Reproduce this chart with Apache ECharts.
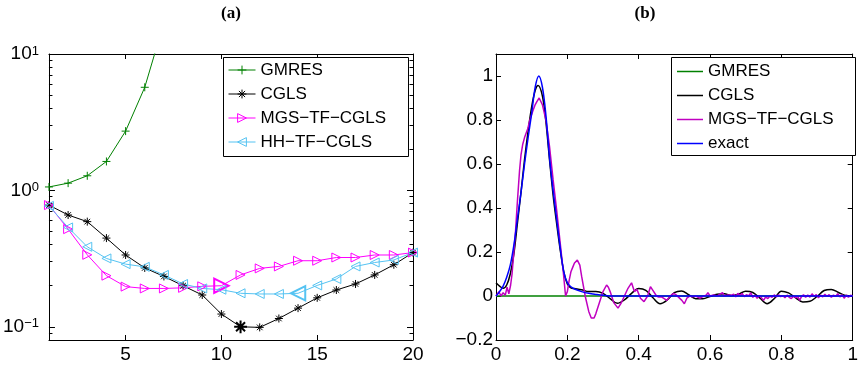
<!DOCTYPE html>
<html><head><meta charset="utf-8">
<script src="https://cdn.jsdelivr.net/npm/echarts@6/dist/echarts.min.js"></script>
<style>html,body{margin:0;padding:0;background:#fff}#c{width:861px;height:371px}</style>
</head><body><div id="c"></div>
<script>
// ---------- panel (a): error history ----------
const iterations = [1,2,3,4,5,6,7,8,9,10,11,12,13,14,15,16,17,18,19,20];
const gmresErr = [1.06,1.13,1.28,1.63,2.72,5.7,17,50];
const cglsErr  = [0.78,0.66,0.59,0.447,0.336,0.27,0.234,0.2,0.171,0.124,0.1,0.099,0.115,0.137,0.163,0.186,0.206,0.24,0.285,0.35];
const mgsErr   = [0.78,0.52,0.337,0.237,0.197,0.191,0.191,0.193,0.198,0.2,0.24,0.268,0.277,0.305,0.305,0.322,0.322,0.336,0.336,0.35];
const hhErr    = [0.77,0.535,0.386,0.317,0.288,0.275,0.24,0.206,0.191,0.187,0.176,0.174,0.174,0.176,0.201,0.224,0.277,0.296,0.309,0.35];
const cglsBest = 11, mgsBest = 10, hhBest = 14;
const leftXTicks = [5,10,15,20];
const leftYTicks = [0.1,1,10];
const leftYMinorTicks = [0.09,0.2,0.3,0.4,0.5,0.6,0.7,0.8,0.9,2,3,4,5,6,7,8,9];

// ---------- panel (b): solutions ----------
const gmresSol = [[0,0],[1,0]];
const exactSol = [[0,0],[0.01,0.02],[0.02,0.045],[0.03,0.085],[0.04,0.14],[0.05,0.23],[0.06,0.35],[0.07,0.47],[0.08,0.6],[0.09,0.72],[0.1,0.83],[0.11,0.95],[0.12,1.0],[0.13,0.95],[0.14,0.82],[0.15,0.63],[0.16,0.48],[0.17,0.35],[0.18,0.22],[0.19,0.11],[0.2,0.06],[0.21,0.042],[0.22,0.032],[0.24,0.02],[0.26,0.012],[0.28,0.007],[0.3,0.003],[0.33,0],[0.4,0],[0.6,0],[0.8,0],[1,0]];
const cglsSol = [[0,0.06],[0.01,0.045],[0.02,0.035],[0.03,0.05],[0.04,0.1],[0.05,0.19],[0.06,0.33],[0.07,0.47],[0.08,0.62],[0.09,0.75],[0.1,0.86],[0.11,0.935],[0.118,0.957],[0.13,0.91],[0.14,0.79],[0.15,0.62],[0.16,0.46],[0.17,0.33],[0.18,0.21],[0.19,0.11],[0.2,0.055],[0.21,0.037],[0.22,0.034],[0.24,0.028],[0.26,0.02],[0.28,0.02],[0.3,0.012],[0.32,-0.012],[0.34,-0.033],[0.36,-0.018],[0.38,0.012],[0.4,0.034],[0.42,0.026],[0.44,-0.008],[0.46,-0.035],[0.48,-0.018],[0.5,0.015],[0.52,0.023],[0.54,0.006],[0.56,-0.012],[0.58,-0.012],[0.6,-0.002],[0.62,0.008],[0.64,0.01],[0.66,0.002],[0.68,0.008],[0.7,0.022],[0.72,0.016],[0.74,-0.01],[0.76,-0.035],[0.78,-0.012],[0.8,0.022],[0.82,0.014],[0.84,-0.008],[0.86,-0.027],[0.88,-0.024],[0.9,-0.002],[0.92,0.025],[0.94,0.03],[0.96,0.016],[0.98,0.002],[1,0]];
const mgsSol = [[0,0],[0.008,0.02],[0.014,0],[0.02,0.015],[0.026,0.003],[0.031,0.04],[0.036,0.01],[0.041,0.05],[0.045,0.1],[0.05,0.2],[0.055,0.3],[0.06,0.43],[0.066,0.57],[0.07,0.64],[0.075,0.69],[0.08,0.72],[0.089,0.76],[0.095,0.8],[0.103,0.84],[0.11,0.87],[0.115,0.885],[0.121,0.9],[0.126,0.895],[0.13,0.87],[0.14,0.8],[0.15,0.68],[0.16,0.53],[0.17,0.39],[0.18,0.24],[0.188,0.12],[0.195,0],[0.2,0.02],[0.205,0.07],[0.21,0.11],[0.215,0.13],[0.22,0.15],[0.228,0.163],[0.235,0.14],[0.24,0.09],[0.25,0],[0.26,-0.07],[0.267,-0.1],[0.275,-0.1],[0.28,-0.08],[0.29,-0.03],[0.3,0.02],[0.31,0.05],[0.315,0.04],[0.32,0.02],[0.33,-0.03],[0.342,-0.055],[0.35,-0.035],[0.36,0],[0.37,0.035],[0.38,0.06],[0.383,0.065],[0.388,0.02],[0.395,0.03],[0.405,-0.01],[0.415,-0.026],[0.425,0],[0.433,0.042],[0.438,0.03],[0.442,0.035],[0.45,0],[0.456,-0.005],[0.465,-0.005],[0.479,-0.02],[0.488,0],[0.498,0.012],[0.505,0.005],[0.51,0.01],[0.521,-0.02],[0.528,-0.035],[0.535,-0.01],[0.544,0],[0.55,-0.003],[0.56,0],[0.571,-0.01],[0.58,-0.003],[0.59,0.005],[0.594,0.015],[0.6,0],[0.61,0.005],[0.62,0],[0.635,0.015],[0.64,0],[0.65,0.005],[0.66,0.003],[0.666,0.008],[0.672,-0.004],[0.678,0.012],[0.684,0.002],[0.69,0.012],[0.696,-0.003],[0.702,0.006],[0.708,0],[0.714,0.014],[0.72,-0.006],[0.726,0.004],[0.732,-0.01],[0.738,0.002],[0.744,-0.008],[0.75,-0.02],[0.756,-0.004],[0.762,-0.012],[0.768,0],[0.774,-0.006],[0.78,0.005],[0.786,-0.004],[0.792,0.006],[0.798,-0.003],[0.804,0.002],[0.81,-0.008],[0.816,0.004],[0.822,-0.006],[0.828,-0.012],[0.834,0],[0.84,-0.008],[0.846,-0.002],[0.851,-0.02],[0.856,-0.004],[0.862,0.006],[0.868,-0.006],[0.874,0.004],[0.88,-0.005],[0.886,0.01],[0.892,-0.002],[0.898,0.006],[0.904,-0.008],[0.91,0.004],[0.916,-0.004],[0.922,0.008],[0.928,-0.002],[0.934,0.006],[0.94,-0.006],[0.946,0.004],[0.952,-0.002],[0.958,0.01],[0.964,-0.004],[0.97,0.006],[0.976,-0.01],[0.982,0.004],[0.988,-0.006],[0.994,0.003],[1,0]];
const rightXTicks = [0,0.2,0.4,0.6,0.8,1];
const rightYTicks = [-0.2,0,0.2,0.4,0.6,0.8,1];

const FONT = '"Liberation Sans", Arial, sans-serif';
const SYM = {
  plus: 'path://M0,5L10,5M5,0L5,10',
  star: 'path://M0,5L10,5M5,0L5,10M1.5,1.5L8.5,8.5M1.5,8.5L8.5,1.5',
  triR: 'path://M0,0L10,5L0,10Z',
  triL: 'path://M10,0L0,5L10,10Z'
};
const C = {green:'#008000', black:'#000000', mag:'#ff00ff', cyan:'#55c3f2', mag2:'#c000c0', blue:'#0000ff'};

function markerSeries(name, vals, color, symbol, size, best) {
  return {
    name, type:'line', xAxisIndex:0, yAxisIndex:0, symbol, symbolSize:size,
    lineStyle:{color, width:1}, itemStyle:{color:'rgba(255,255,255,0)', borderColor:color, borderWidth:1},
    data: vals.map((v,i) => {
      const k = iterations[i];
      if (k === best) return {value:[k,v], symbolSize:size*1.6, itemStyle:{borderWidth:2}};
      return [k,v];
    }),
    emphasis:{disabled:true}, z:2
  };
}
function lineSeries(name, data, color, smooth) {
  return {name, type:'line', xAxisIndex:2, yAxisIndex:4, symbol:'none', smooth: smooth ? 0.35 : false,
    lineStyle:{color, width:1.5}, itemStyle:{color}, data, emphasis:{disabled:true}};
}

const tickStyle = {lineStyle:{color:'#000', width:1}};
const lineAx = {show:true, onZero:false, lineStyle:{color:'#000', width:1}};
const lblBase = {color:'#000', fontSize:19, fontFamily:FONT};

function supFmt(v) {
  const e = Math.round(Math.log10(v));
  return '{b|10}{s|' + (e < 0 ? '\u2212' + (-e) : e) + '}';
}
function numFmt(v) { return v < 0 ? '\u2212' + Math.abs(v) : String(v); }

const option = {
  animation:false,
  backgroundColor:'#fff',
  grid:[
    {left:48, top:54, width:365, height:286},
    {left:496, top:54, width:363, height:286}
  ],
  xAxis:[
    {gridIndex:0, type:'value', min:1, max:20, position:'bottom', axisLine:lineAx, splitLine:{show:false},
     axisTick:{inside:true, length:5, customValues:leftXTicks, ...tickStyle},
     axisLabel:{...lblBase, margin:5, customValues:leftXTicks}},
    {gridIndex:0, type:'value', min:1, max:20, position:'top', axisLine:lineAx, splitLine:{show:false},
     axisTick:{inside:true, length:5, customValues:leftXTicks, ...tickStyle}, axisLabel:{show:false}},
    {gridIndex:1, type:'value', min:0, max:1, position:'bottom', axisLine:lineAx, splitLine:{show:false},
     axisTick:{inside:true, length:5, customValues:rightXTicks, ...tickStyle},
     axisLabel:{...lblBase, margin:5, customValues:rightXTicks, formatter:numFmt}},
    {gridIndex:1, type:'value', min:0, max:1, position:'top', axisLine:lineAx, splitLine:{show:false},
     axisTick:{inside:true, length:5, customValues:rightXTicks, ...tickStyle}, axisLabel:{show:false}}
  ],
  yAxis:[
    {gridIndex:0, type:'log', logBase:10, min:0.08, max:10, position:'left', axisLine:lineAx, splitLine:{show:false},
     axisTick:{inside:true, length:6, customValues:leftYTicks, ...tickStyle},
     axisLabel:{margin:10, customValues:leftYTicks, formatter:supFmt,
       rich:{b:{fontSize:19, fontFamily:FONT, color:'#000', padding:[5,0,0,0], verticalAlign:'bottom', lineHeight:19},
             s:{fontSize:13, fontFamily:FONT, color:'#000', verticalAlign:'top', lineHeight:13}}}},
    {gridIndex:0, type:'log', logBase:10, min:0.08, max:10, position:'left', axisLine:{show:false}, splitLine:{show:false},
     axisTick:{inside:true, length:3.5, customValues:leftYMinorTicks, ...tickStyle}, axisLabel:{show:false}},
    {gridIndex:0, type:'log', logBase:10, min:0.08, max:10, position:'right', axisLine:lineAx, splitLine:{show:false},
     axisTick:{inside:true, length:6, customValues:leftYTicks, ...tickStyle}, axisLabel:{show:false}},
    {gridIndex:0, type:'log', logBase:10, min:0.08, max:10, position:'right', axisLine:{show:false}, splitLine:{show:false},
     axisTick:{inside:true, length:3.5, customValues:leftYMinorTicks, ...tickStyle}, axisLabel:{show:false}},
    {gridIndex:1, type:'value', min:-0.2, max:1.1, position:'left', axisLine:lineAx, splitLine:{show:false},
     axisTick:{inside:true, length:5, customValues:rightYTicks, ...tickStyle},
     axisLabel:{...lblBase, margin:3, customValues:rightYTicks, formatter:numFmt}},
    {gridIndex:1, type:'value', min:-0.2, max:1.1, position:'right', axisLine:lineAx, splitLine:{show:false},
     axisTick:{inside:true, length:5, customValues:rightYTicks, ...tickStyle}, axisLabel:{show:false}}
  ],
  legend:[
    {orient:'vertical', left:228, top:61.5, padding:0, itemWidth:27, itemHeight:11, itemGap:7,
     lineStyle:{width:1}, itemStyle:{borderWidth:1},
     textStyle:{color:'#000', fontSize:17, fontFamily:FONT, lineHeight:17},
     data:['GMRES','CGLS','MGS\u2212TF\u2212CGLS','HH\u2212TF\u2212CGLS'], selectedMode:false, z:5},
    {orient:'vertical', left:677, top:63, padding:0, itemWidth:26, itemHeight:1.5, itemGap:7, icon:'rect',
     textStyle:{color:'#000', fontSize:17, fontFamily:FONT, lineHeight:17},
     data:['GMRES ','CGLS ','MGS\u2212TF\u2212CGLS ','exact'], selectedMode:false, z:5}
  ],
  graphic:[
    {type:'rect', z:3, shape:{x:223.5, y:57.5, width:185, height:99}, style:{fill:'#fff', stroke:'#000', lineWidth:1}},
    {type:'rect', z:3, shape:{x:671.5, y:57.5, width:184, height:98}, style:{fill:'#fff', stroke:'#000', lineWidth:1}},
    {type:'text', z:5, x:231, y:14, style:{text:'(a)', font:'bold 17px "Liberation Serif", serif', fill:'#000', align:'center', verticalAlign:'middle'}},
    {type:'text', z:5, x:645, y:14, style:{text:'(b)', font:'bold 17px "Liberation Serif", serif', fill:'#000', align:'center', verticalAlign:'middle'}}
  ],
  series:[
    markerSeries('GMRES', gmresErr, C.green, SYM.plus, 8, -1),
    markerSeries('CGLS', cglsErr, C.black, SYM.star, 8, cglsBest),
    markerSeries('MGS\u2212TF\u2212CGLS', mgsErr, C.mag, SYM.triR, 9, mgsBest),
    markerSeries('HH\u2212TF\u2212CGLS', hhErr, C.cyan, SYM.triL, 9, hhBest),
    lineSeries('GMRES ', gmresSol, C.green, false),
    lineSeries('CGLS ', cglsSol, C.black, true),
    lineSeries('MGS\u2212TF\u2212CGLS ', mgsSol, C.mag2, false),
    lineSeries('exact', exactSol, C.blue, true)
  ]
};
const chart = echarts.init(document.getElementById('c'), null, {renderer:'canvas'});
chart.setOption(option);
</script></body></html>
